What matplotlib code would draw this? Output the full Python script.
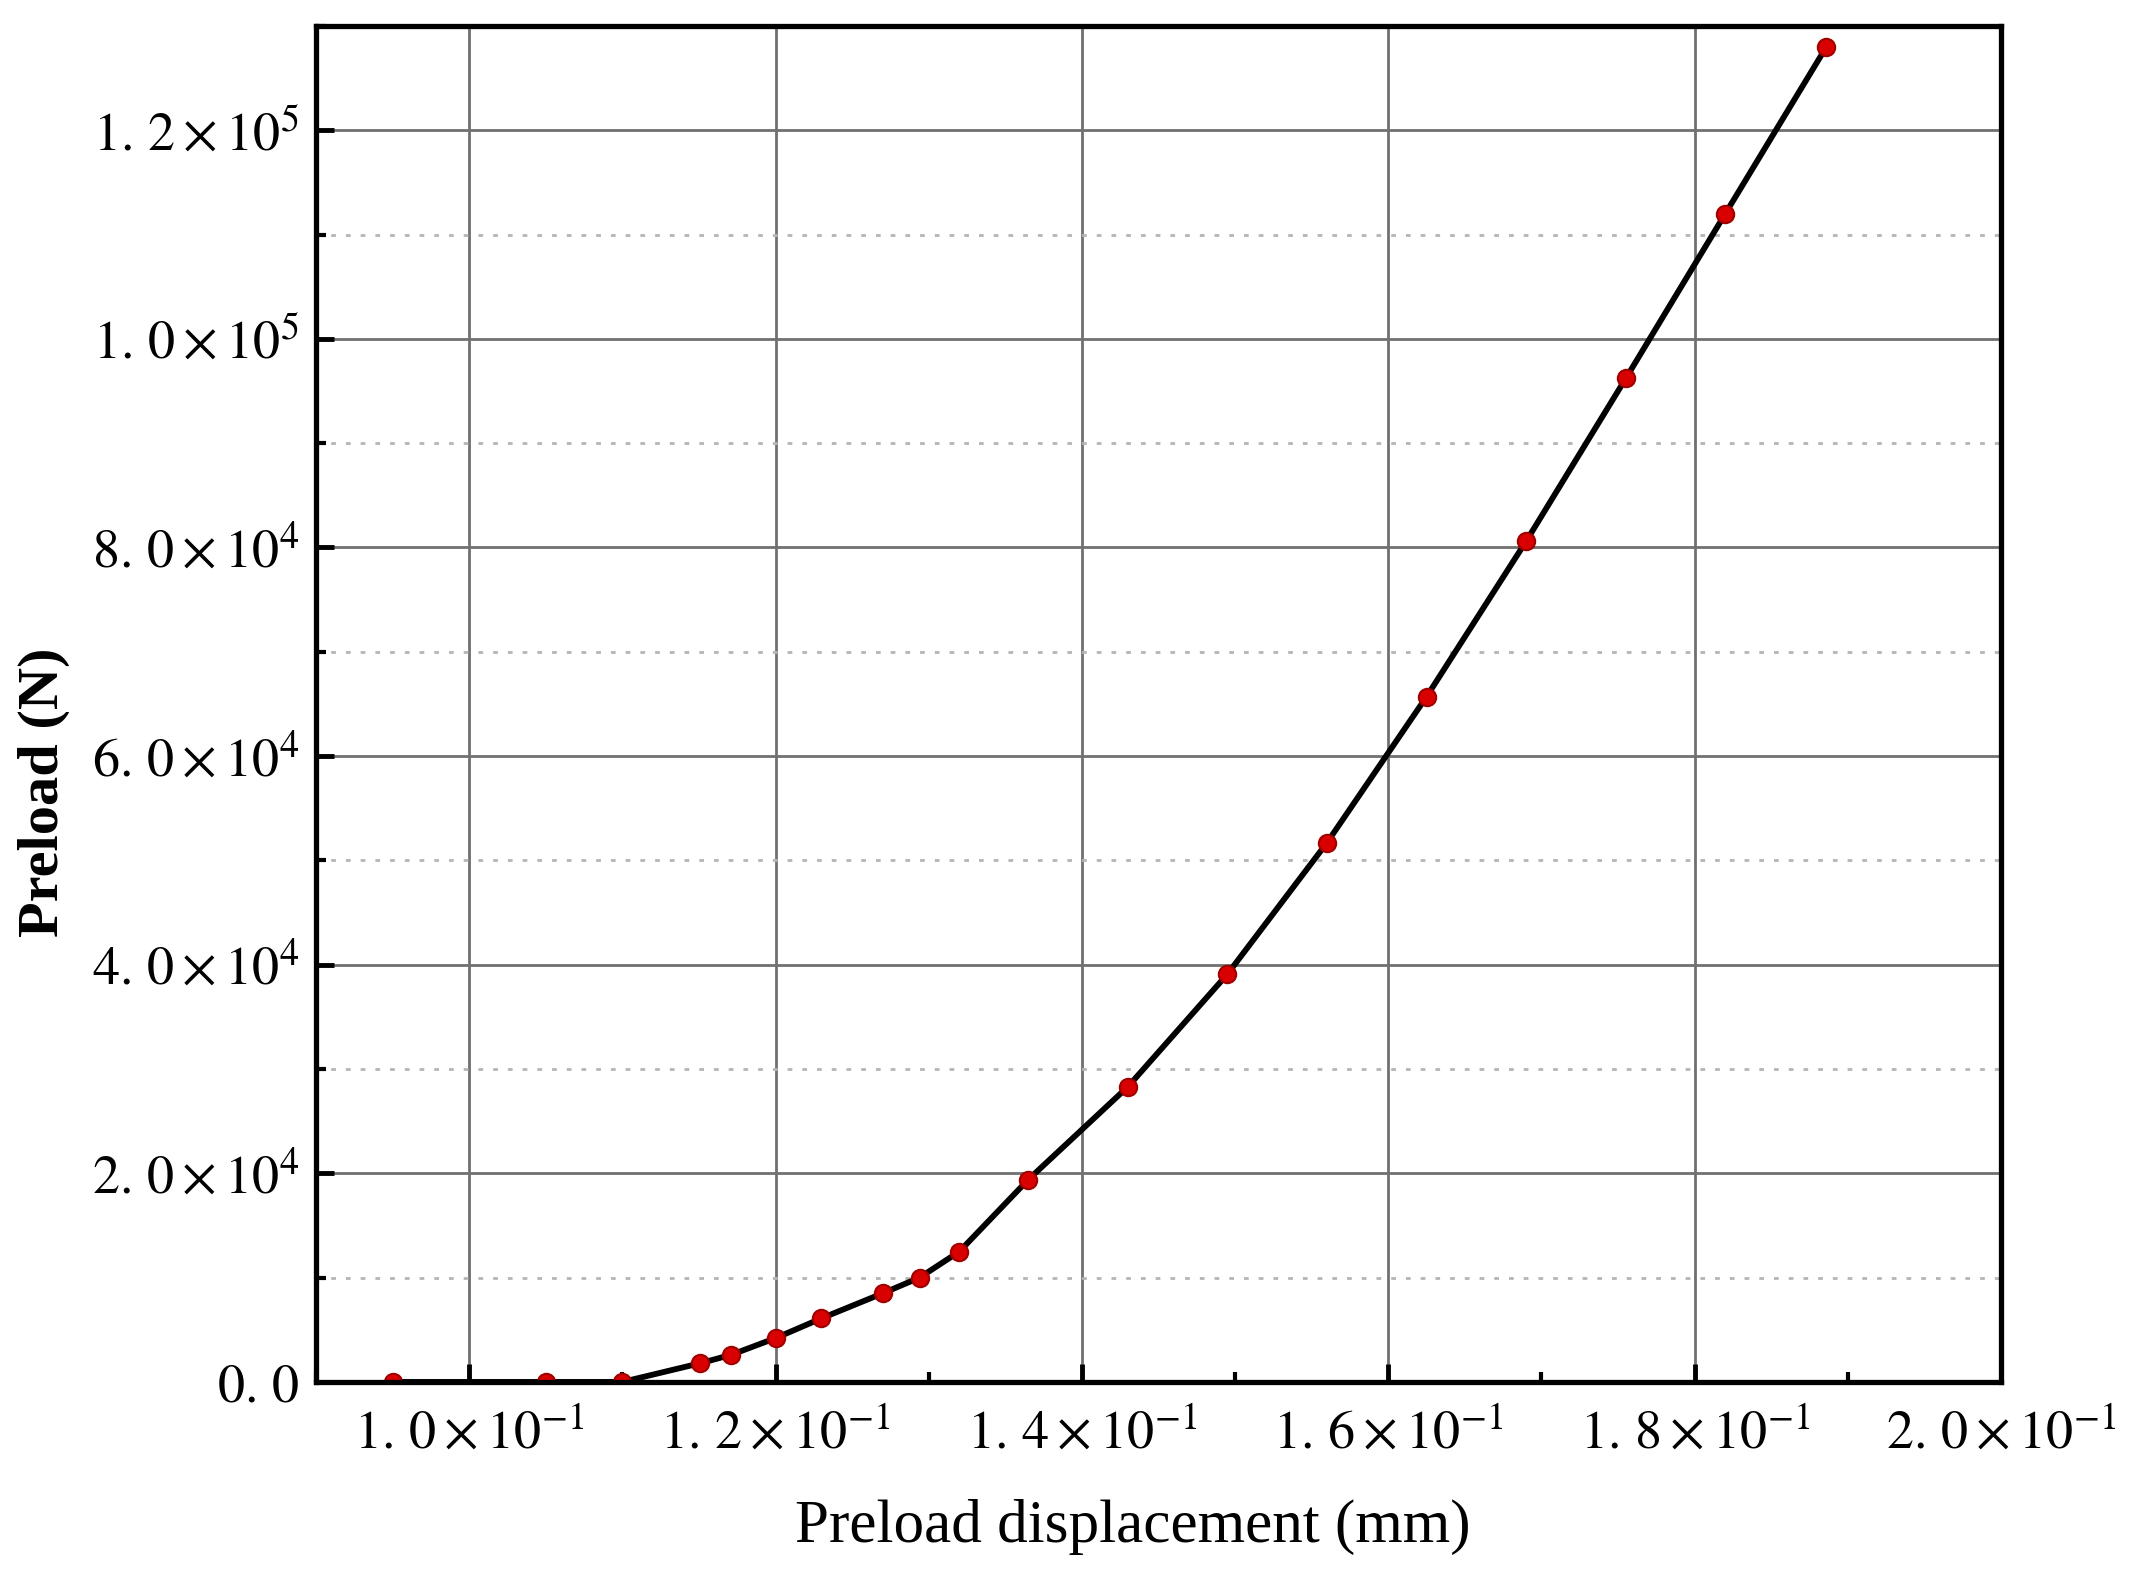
import numpy as np
import matplotlib.pyplot as plt
from matplotlib.ticker import MultipleLocator, FuncFormatter

plt.rcParams['font.family'] = ['Liberation Serif', 'DejaVu Sans']
plt.rcParams['mathtext.fontset'] = 'stix'

# preload displacement (mm) vs preload (N)
displacement = [0.095, 0.105, 0.110, 0.1151, 0.1171, 0.1200, 0.1230, 0.1270,
                0.1294, 0.1320, 0.1365, 0.1430, 0.1495, 0.1560, 0.1625,
                0.1690, 0.1755, 0.1820, 0.1886]
preload = [0, 0, 0, 1800, 2600, 4200, 6100, 8500, 10000, 12500, 19400,
           28300, 39100, 51700, 65700, 80600, 96200, 112000, 128000]

x_ticks = [0.10, 0.12, 0.14, 0.16, 0.18, 0.20]
y_ticks = [0, 2e4, 4e4, 6e4, 8e4, 1e5, 1.2e5]


def sci_label(v, pos):
    if v == 0:
        return r"$\mathrm{0.\,0}$"
    e = int(np.floor(np.log10(abs(v)) + 1e-9))
    m = v / 10 ** e
    a, b = f"{m:.1f}".split(".")
    return r"$\mathrm{%s.\,%s}\times\mathrm{10}^{%d}$" % (a, b, e)


fig = plt.figure(figsize=(21.29, 15.81), dpi=100)
ax = fig.add_axes([0.1484, 0.1259, 0.7915, 0.8577])

ax.plot(displacement, preload, color='black', lw=4.2, zorder=3)
ax.plot(displacement, preload, 'o', ms=12.5, mfc='#d80000', mec='#a00000',
        mew=1.5, zorder=4)

ax.set_xlim(0.09, 0.20)
ax.set_ylim(0, 1.3e5)
ax.set_xticks(x_ticks)
ax.set_yticks(y_ticks)
ax.xaxis.set_minor_locator(MultipleLocator(0.01))
ax.yaxis.set_minor_locator(MultipleLocator(1e4))
ax.xaxis.set_major_formatter(FuncFormatter(sci_label))
ax.yaxis.set_major_formatter(FuncFormatter(sci_label))

ax.grid(True, which='major', color='#707070', lw=2.0, zorder=1)
ax.grid(True, which='minor', axis='y', color='#b5b5b5', lw=2.0,
        linestyle=(0, (1.7, 3.6)), zorder=1)
ax.set_axisbelow(True)

ax.tick_params(which='major', direction='in', length=13, width=3.5,
               labelsize=39)
ax.tick_params(axis='x', which='major', pad=20)
ax.tick_params(axis='y', which='major', pad=12)
ax.tick_params(which='minor', direction='in', length=7, width=3)
for sp in ax.spines.values():
    sp.set_linewidth(3.8)
    sp.set_zorder(5)

ax.set_xlabel("Preload displacement (mm)", fontsize=44)
ax.xaxis.set_label_coords(0.4846, -0.086)
ax.set_ylabel("Preload (N)", fontsize=42, fontweight='bold')
ax.yaxis.set_label_coords(-0.146, 0.435)

fig.savefig("out.png", dpi=100, facecolor='white')
